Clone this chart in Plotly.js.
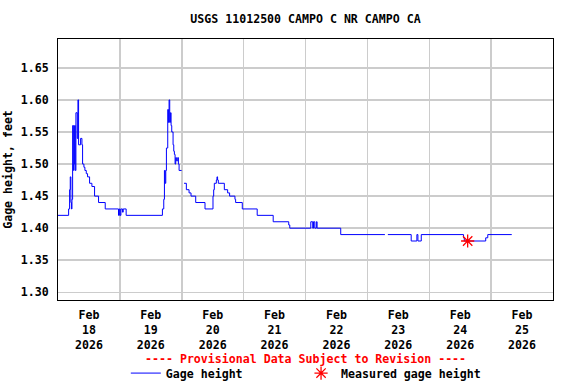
<!DOCTYPE html>
<html>
<head>
<meta charset="utf-8">
<script src="https://cdn.plot.ly/plotly-3.0.1.min.js"></script>
<style>html,body{margin:0;padding:0;background:#fff}#chart{width:576px;height:384px}</style>
</head>
<body>
<div id="chart"></div>
<script>
const chartTitle = "USGS 11012500 CAMPO C NR CAMPO CA";
const yTitle = "Gage height, feet";
const provisionalNote = "---- Provisional Data Subject to Revision ----";
const seriesName = "Gage height";
const measuredName = "Measured gage height";

const gageTimes = [
  "2026-02-18 00:00","2026-02-18 04:07","2026-02-18 04:30","2026-02-18 04:45","2026-02-18 05:00",
  "2026-02-18 05:12","2026-02-18 05:25","2026-02-18 05:40","2026-02-18 06:03","2026-02-18 06:12",
  "2026-02-18 06:26","2026-02-18 06:42","2026-02-18 06:57","2026-02-18 07:28","2026-02-18 07:44",
  "2026-02-18 07:59","2026-02-18 08:46","2026-02-18 09:17","2026-02-18 09:32","2026-02-18 10:03",
  "2026-02-18 10:26","2026-02-18 10:58","2026-02-18 11:28","2026-02-18 12:15","2026-02-18 13:09",
  "2026-02-18 14:11","2026-02-18 15:44","2026-02-18 18:19","2026-02-18 23:28","2026-02-18 23:48",
  "2026-02-19 00:06","2026-02-19 00:24","2026-02-19 01:00","2026-02-19 01:18","2026-02-19 02:26",
  "2026-02-19 16:30","2026-02-19 17:01","2026-02-19 17:17","2026-02-19 17:33","2026-02-19 17:48",
  "2026-02-19 18:03","2026-02-19 18:34","2026-02-19 18:50","2026-02-19 19:05","2026-02-19 19:20",
  "2026-02-19 19:36","2026-02-19 19:52","2026-02-19 20:07","2026-02-19 20:38","2026-02-19 20:54",
  "2026-02-19 21:09","2026-02-19 21:25","2026-02-19 21:40","2026-02-19 21:55","2026-02-19 22:26",
  "2026-02-19 22:42","2026-02-19 22:58","2026-02-19 23:57","2026-02-20 00:00","2026-02-20 00:53",
  "2026-02-20 01:47","2026-02-20 02:50","2026-02-20 03:36","2026-02-20 05:25","2026-02-20 09:01",
  "2026-02-20 12:07","2026-02-20 12:23","2026-02-20 12:38","2026-02-20 13:25","2026-02-20 13:40",
  "2026-02-20 13:54","2026-02-20 14:11","2026-02-20 16:31","2026-02-20 17:48","2026-02-20 18:34",
  "2026-02-20 20:38","2026-02-20 20:54","2026-02-20 23:29","2026-02-21 05:16","2026-02-21 11:28",
  "2026-02-21 17:30","2026-02-21 17:54","2026-02-22 02:03","2026-02-22 02:48","2026-02-22 03:06",
  "2026-02-22 03:36","2026-02-22 04:12","2026-02-22 04:30","2026-02-22 13:40","2026-02-23 06:48",
  "2026-02-23 07:00","2026-02-23 07:57","2026-02-23 17:00","2026-02-23 19:12","2026-02-23 19:36",
  "2026-02-23 20:54","2026-02-24 13:18","2026-02-24 13:36","2026-02-24 21:54","2026-02-24 22:42",
  "2026-02-25 08:00"
];
const gageHeight = [
  1.42, 1.43, 1.46, 1.48, 1.44,
  1.43, 1.445, 1.56, 1.49, 1.50,
  1.56, 1.49, 1.58, 1.54, 1.60,
  1.53, 1.54, 1.53, 1.50, 1.495,
  1.49, 1.485, 1.48, 1.47, 1.465,
  1.45, 1.44, 1.43, 1.42, 1.43,
  1.42, 1.43, 1.425, 1.43, 1.42,
  1.43, 1.445, 1.49, 1.47, 1.49,
  1.525, 1.585, 1.565, 1.60, 1.565,
  1.58, 1.56, 1.55, 1.53, 1.52,
  1.515, 1.50, 1.51, 1.505, 1.51,
  1.50, 1.49, 1.49, null, 1.47,
  1.46, 1.455, 1.45, 1.44, 1.43,
  1.45, 1.46, 1.47, 1.475, 1.48,
  1.475, 1.47, 1.46, 1.455, 1.45,
  1.445, 1.44, 1.43, 1.42, 1.41,
  1.405, 1.40, 1.41, 1.40, 1.41,
  1.40, 1.41, 1.40, 1.39, 1.39,
  null, 1.39, 1.38, 1.39, 1.38,
  1.39, 1.385, 1.38, 1.385, 1.39,
  1.39
];
const measuredTimes = ["2026-02-24 14:54"];
const measuredHeight = [1.38];

const yTickVals = [1.30, 1.35, 1.40, 1.45, 1.50, 1.55, 1.60, 1.65];

const F = {family: "DejaVu Sans Mono", size: 11.6, color: "#000", weight: "bold"};

const traces = [
  {x: gageTimes, y: gageHeight, type: "scatter", mode: "lines", name: seriesName,
   line: {color: "#0000ff", width: 1, shape: "hv"}, connectgaps: false, legend: "legend"},
  {x: measuredTimes, y: measuredHeight, type: "scatter", mode: "markers", name: measuredName,
   legend: "legend2",
   marker: {symbol: "asterisk-open", size: 11, color: "#ff0000", line: {color: "#ff0000", width: 1.3}}}
];

const layout = {
  width: 576, height: 384,
  margin: {l: 58, r: 23, t: 39, b: 84, autoexpand: false},
  paper_bgcolor: "#fff", plot_bgcolor: "#fff",
  font: F,
  title: {text: chartTitle, font: F, x: 0.5, xref: "paper", xanchor: "center",
          y: 1 - 19/384, yref: "container", yanchor: "middle"},
  xaxis: {type: "date", range: ["2026-02-18 00:00", "2026-02-26 00:00"],
          tick0: "2026-02-18", dtick: 86400000, ticklabelmode: "period",
          tickformat: "%b<br>%d<br>%Y", ticks: "", showgrid: true,
          gridcolor: "#cccccc", gridwidth: 1.5, showline: true, linecolor: "#000",
          linewidth: 1, mirror: true, zeroline: false, tickfont: F, ticklabelstandoff: 4,
          automargin: false},
  yaxis: {range: [1.288, 1.695], tickvals: yTickVals, tickformat: ".2f", ticks: "",
          showgrid: true, gridcolor: "#cccccc", gridwidth: 1.5, showline: true,
          linecolor: "#000", linewidth: 1, mirror: true, zeroline: false, tickfont: F,
          ticklabelstandoff: 6, automargin: false,
          title: {text: yTitle, font: F, standoff: 5}},
  showlegend: true,
  legend: {orientation: "h", x: 0.137, xanchor: "left", y: -0.28, yanchor: "middle",
           font: F, bgcolor: "rgba(0,0,0,0)", itemclick: false},
  legend2: {orientation: "h", x: 0.491, xanchor: "left", y: -0.28, yanchor: "middle",
           font: F, bgcolor: "rgba(0,0,0,0)", itemclick: false},
  annotations: [{text: provisionalNote, xref: "paper", yref: "paper", x: 0.5, y: -0.226,
                 xanchor: "center", yanchor: "middle", showarrow: false,
                 font: {family: "DejaVu Sans Mono", size: 11.6, color: "#ff0000", weight: "bold"}}]
};

Plotly.newPlot("chart", traces, layout, {displayModeBar: false, staticPlot: true});
</script>
</body>
</html>
